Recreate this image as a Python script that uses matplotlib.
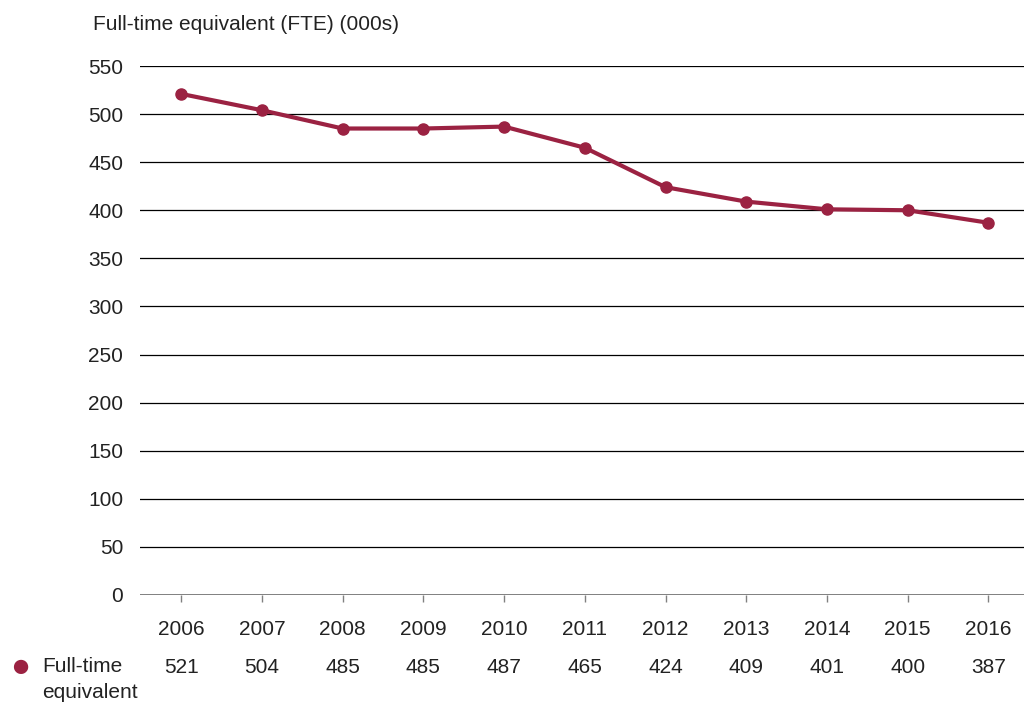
import matplotlib
matplotlib.use('Agg')
import matplotlib.pyplot as plt

years = [2006, 2007, 2008, 2009, 2010, 2011, 2012, 2013, 2014, 2015, 2016]
fte = [521, 504, 485, 485, 487, 465, 424, 409, 401, 400, 387]
yticks = [0, 50, 100, 150, 200, 250, 300, 350, 400, 450, 500, 550]

red = '#9b2242'
txt = '#222222'
fs = 15
plt.rcParams['font.family'] = ['Liberation Sans', 'DejaVu Sans']

fig = plt.figure(figsize=(10.24, 7.05), dpi=100)
ax = fig.add_axes([140 / 1024, 1 - 595 / 705, 1 - 140 / 1024, 529 / 705])

ax.set_ylim(0, 550)
ax.set_xlim(years[0] - 0.51, years[-1] + 0.44)

for v in yticks[1:]:
    ax.axhline(v, color='black', lw=0.9, zorder=1)
ax.axhline(0, color='#808080', lw=1.4, zorder=1)

ax.plot(years, fte, color=red, lw=3, marker='o', ms=8, zorder=3, clip_on=False)

for s in ax.spines.values():
    s.set_visible(False)

ax.set_yticks(yticks)
ax.set_yticklabels([str(v) for v in yticks], fontsize=fs, color=txt)
ax.tick_params(axis='y', length=0, pad=12)
ax.set_xticks(years)
ax.set_xticklabels([str(y) for y in years], fontsize=fs, color=txt)
ax.tick_params(axis='x', length=5, color='#808080', width=1, pad=13)

# value row below the axis
for y, v in zip(years, fte):
    ax.text(y, -75, str(v), fontsize=fs, color=txt, ha='center', va='center',
            transform=ax.transData, clip_on=False)

fig.text(20 / 1024, 1 - 667 / 705, '\u25cf', fontsize=24, color=red, ha='center', va='center')
fig.text(42 / 1024, 1 - 667 / 705, 'Full-time', fontsize=fs, color=txt, ha='left', va='center')
fig.text(42 / 1024, 1 - 693 / 705, 'equivalent', fontsize=fs, color=txt, ha='left', va='center')

fig.text(93 / 1024, 1 - 24 / 705, 'Full-time equivalent (FTE) (000s)', fontsize=fs,
         color=txt, ha='left', va='center')

fig.savefig('out.png', dpi=100)
